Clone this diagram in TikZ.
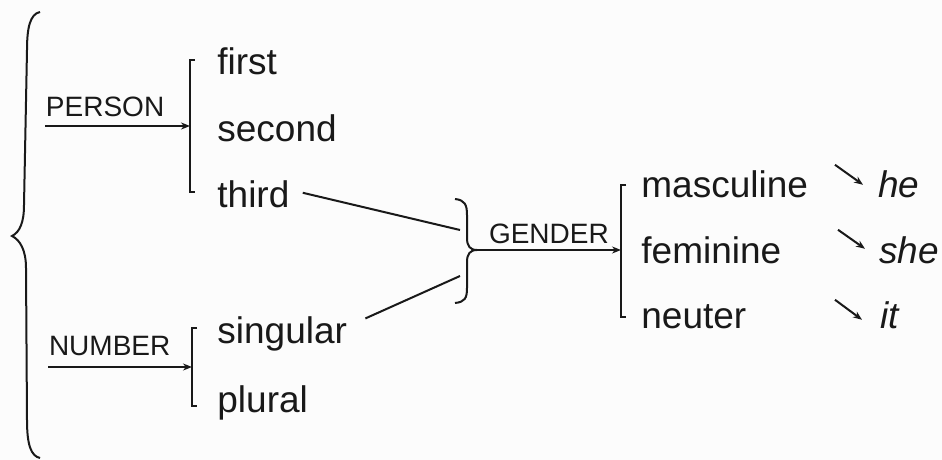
\documentclass[tikz,border=0pt]{standalone}
\usepackage{fontspec}
\setmainfont{Liberation Sans}
\usetikzlibrary{arrows.meta,calc}

\begin{document}
\begin{tikzpicture}[
    x=0.5pt, y=-0.5pt,
    >={Stealth[length=4.5pt,width=3.5pt]},
    % Shared looks
    ink/.style={color=black!90},
    word/.style={ink, font=\fontsize{18.5}{22}\selectfont, anchor=base west, inner sep=0pt},
    pronoun/.style={word, font=\fontsize{18.5}{22}\selectfont\itshape},
    feature/.style={ink, font=\fontsize{14}{16}\selectfont, inner sep=0pt, anchor=south west},
    line/.style={ink, line width=1pt},
    arrowline/.style={line, ->}
]
    \useasboundingbox (0,0) rectangle (942,460);
    \fill[black!1] (0,0) rectangle (942,460);

    % --- VALUES ---
    \node[word] (first) at (217,75) {first};
    \node[word] (second) at (217,141) {second};
    \node[word] (third) at (217,207) {third};
    \node[word] (singular) at (217,343) {singular};
    \node[word] (plural) at (217,412) {plural};

    \node[word] (masc) at (641,197) {masculine};
    \node[word] (fem) at (641,263) {feminine};
    \node[word] (neut) at (641,328) {neuter};

    \node[pronoun] (he) at (878,197) {he};
    \node[pronoun] (she) at (879,263) {she};
    \node[pronoun] (it) at (880,328) {it};

    % --- BRACKET ENDS ---
    \coordinate (personTop) at (190,60);
    \coordinate (personBot) at (190,192);
    \coordinate (personMid) at (190,126);
    \coordinate (numberTop) at (192,328);
    \coordinate (numberBot) at (192,406);
    \coordinate (numberMid) at (192,367);
    \coordinate (genderTop) at (621,185);
    \coordinate (genderBot) at (621,317);
    \coordinate (genderMid) at (621,250);

    \draw[line] (personTop) ++(5,0) -- (personTop) -- (personBot) -- ++(5,0);
    \draw[line] (numberTop) ++(5,0) -- (numberTop) -- (numberBot) -- ++(5,0);
    \draw[line] (genderTop) ++(5,0) -- (genderTop) -- (genderBot) -- ++(5,0);

    % --- OUTER BRACE ---
    \draw[line] (40,12) .. controls (30,14) and (27,28) .. (27,50) -- (24,205)
        .. controls (24,222) and (20,232) .. (12,236)
        .. controls (20,240) and (26,250) .. (26,268) -- (27,420)
        .. controls (27,445) and (31,456) .. (40,458);

    % --- FEATURE ARROWS ---
    \coordinate (personIn) at (45,126);
    \coordinate (numberIn) at (48,367);
    \draw[arrowline] (personIn) -- node[feature, pos=0, yshift=4pt] {PERSON} (personMid);
    \draw[arrowline] (numberIn) -- node[feature, pos=0, yshift=5pt] {NUMBER} (numberMid);

    % --- GENDER BRACE (third + singular) ---
    \coordinate (genderTip) at (477,250);
    \coordinate (braceUpper) at (460,230);
    \coordinate (braceLower) at (460,276);
    \draw[line] (455,199) .. controls (465,200) and (467,205) .. (467,215) -- (467,238)
        .. controls (467,246) and (470,250) .. (genderTip)
        .. controls (470,250) and (467,254) .. (467,262) -- (467,288)
        .. controls (467,298) and (465,302) .. (455,303);
    \draw[line] ($(third.east)+(13,-1)$) -- (braceUpper);
    \draw[line] ($(singular.east)+(18,-15)$) -- (braceLower);
    \draw[arrowline] (genderTip) -- node[feature, pos=0, xshift=5.5pt, yshift=2.5pt] {GENDER} (genderMid);

    % --- PRONOUNS ---
    \draw[arrowline] ($(he.west)+(-43,-19)$) -- ($(he.west)+(-15,1)$);
    \draw[arrowline] ($(she.west)+(-41,-20)$) -- ($(she.west)+(-14,-1)$);
    \draw[arrowline] ($(it.west)+(-45,-15)$) -- ($(it.west)+(-18,5)$);

\end{tikzpicture}
\end{document}
